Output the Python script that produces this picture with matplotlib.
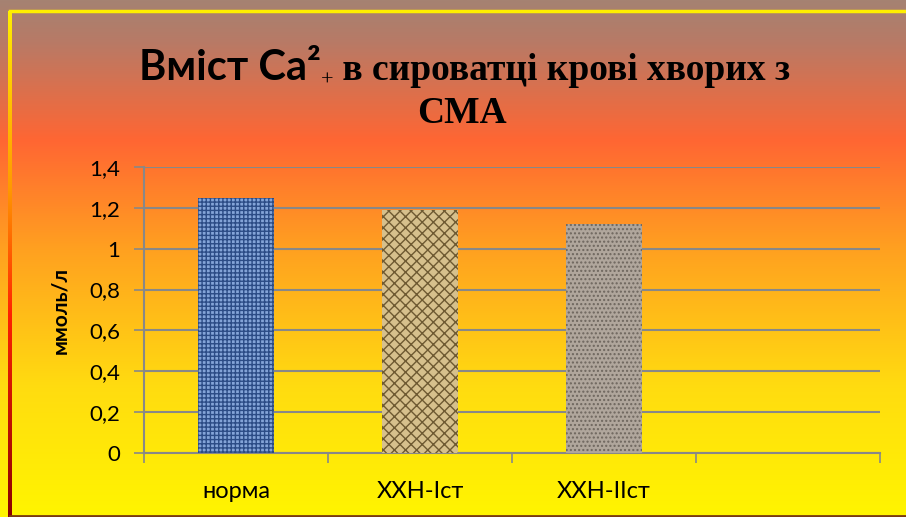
import matplotlib
matplotlib.use("Agg")
import matplotlib.pyplot as plt
import numpy as np
from matplotlib.colors import LinearSegmentedColormap

categories = ["норма", "ХХН-Іст", "ХХН-ІІст", ""]
values = [1.25, 1.19, 1.12, None]
yticks = [0, 0.2, 0.4, 0.6, 0.8, 1.0, 1.2, 1.4]
ytick_labels = ["0", "0,2", "0,4", "0,6", "0,8", "1", "1,2", "1,4"]

W, H = 906, 517
fig = plt.figure(figsize=(W / 100, H / 100), dpi=100)

# background gradient
bg = fig.add_axes([0, 0, 1, 1], zorder=-10)
bg_cmap = LinearSegmentedColormap.from_list(
    "bg", [(0.0, "#a58272"), (0.08, "#b87a66"), (0.27, "#ff6633"),
           (0.48, "#ffa020"), (0.75, "#ffdc10"), (1.0, "#fff500")])
grad = np.linspace(0, 1, 256).reshape(-1, 1)
bg.imshow(grad, aspect="auto", cmap=bg_cmap, extent=[0, 1, 0, 1], origin="upper")
# frame lines
bg.plot([10 / W, 1], [1 - 11 / H, 1 - 11 / H], color="#ffee00", lw=2.5)
left_cmap = LinearSegmentedColormap.from_list(
    "left", [(0.0, "#ffee00"), (0.35, "#ff9900"), (0.6, "#ff2200"), (1.0, "#8a0000")])
bg.imshow(np.linspace(0, 1, 256).reshape(-1, 1), aspect="auto", cmap=left_cmap,
          extent=[8 / W, 12 / W, 0, 1 - 11 / H], origin="upper")
bg.plot([10 / W, 1], [1.5 / H, 1.5 / H], color="#7a3a10", lw=2)
bg.set_xlim(0, 1)
bg.set_ylim(0, 1)
bg.axis("off")

ax = fig.add_axes([144 / W, 1 - 453 / H, (880 - 144) / W, (453 - 167) / H])
ax.patch.set_alpha(0)
x = np.arange(len(categories))

styles = [
    dict(facecolor="#84a4d8", edgecolor="#2c4c86", hatch="++++"),
    dict(facecolor="#d6c08c", edgecolor="#6e5a32", hatch="xxx"),
    dict(facecolor="#b0a69c", edgecolor="#6e665e", hatch="...."),
]
for i, v in enumerate(values):
    if v is None:
        continue
    ax.bar(x[i], v, width=0.41, linewidth=0, zorder=3, **styles[i])

ax.set_xlim(-0.5, len(categories) - 0.5)
ax.set_ylim(0, 1.4)
ax.set_yticks(yticks)
ax.set_yticklabels(ytick_labels, fontsize=16, family="Lato")
ax.set_xticks(x)
ax.set_xticklabels(categories, fontsize=17, family="Lato")
ax.set_xticks(np.arange(len(categories) + 1) - 0.5, minor=True)
ax.tick_params(axis="x", which="major", length=0, pad=20)
ax.tick_params(axis="x", which="minor", length=7, width=1.2, color="#888888")
ax.tick_params(axis="y", length=7, width=1.2, color="#888888", pad=10)
ax.grid(axis="y", color="#888888", lw=1.5, zorder=0)
for s in ["top", "right"]:
    ax.spines[s].set_visible(False)
for s in ["left", "bottom"]:
    ax.spines[s].set_color("#888888")
    ax.spines[s].set_linewidth(1.5)
ax.set_ylabel("ммоль/л", fontsize=15, fontweight="bold", family="Lato", labelpad=14)

# title built from pieces
fig.canvas.draw()
r = fig.canvas.get_renderer()
y1 = 1 - 80 / H
parts = [
    ("Вміст Са²", dict(fontsize=30, fontweight="bold", family="Lato"), 0),
    ("+", dict(fontsize=16, family="Liberation Serif"), -6 / H),
    (" в сироватці крові хворих з", dict(fontsize=27, fontweight="bold", family="Liberation Serif"), 0),
]
texts = []
xpos = 0
for s, kw, dy in parts:
    t = fig.text(xpos, y1 + dy, s, ha="left", va="baseline", **kw)
    w = t.get_window_extent(r).width / W
    texts.append((t, xpos))
    xpos += w
start = 0.513 - xpos / 2
for t, xp in texts:
    t.set_x(start + xp)
fig.text(0.51, 1 - 123 / H, "СМА", ha="center", va="baseline", fontsize=27,
         fontweight="bold", family="Liberation Serif")

fig.savefig("out.png", dpi=100)
